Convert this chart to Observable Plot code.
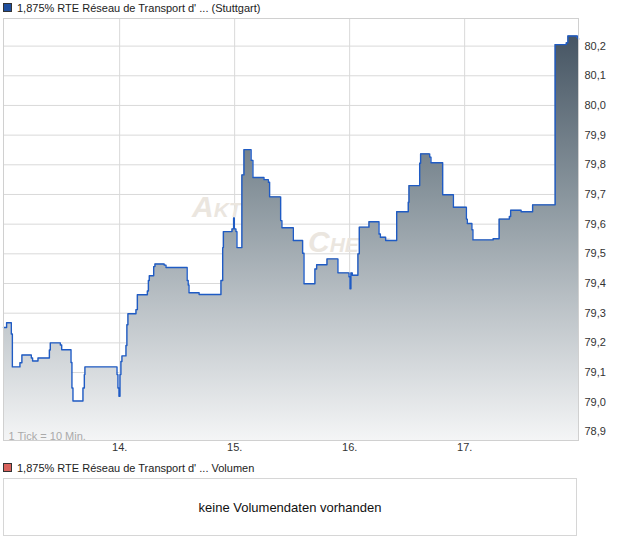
<!DOCTYPE html>
<html>
<head>
<meta charset="utf-8">
<script src="https://cdn.jsdelivr.net/npm/d3@7"></script>
<script src="https://cdn.jsdelivr.net/npm/@observablehq/plot@0.6"></script>
<style>
  html, body { margin: 0; padding: 0; background: #fff; }
  #wrap { position: relative; width: 620px; height: 546px; font-family: "Liberation Sans", Arial, sans-serif; color: #222; }
  .leg { position: absolute; left: 3px; font-size: 11px; line-height: 14px; white-space: nowrap; }
  .sq { display: inline-block; width: 7px; height: 7px; margin-right: 5px; vertical-align: 0px; border: 1px solid #333; }
  #chart { position: absolute; left: 0; top: 0; }
  .box { position: absolute; left: 3px; top: 478px; width: 574px; height: 58px; border: 1px solid #d6d6d6; box-sizing: border-box;
         display: flex; align-items: center; justify-content: center; font-size: 13px; color: #111; }
</style>
</head>
<body>
<div id="wrap">
  <div class="leg" style="top:1px"><span class="sq" style="background:#1f4f9e"></span>1,875% RTE Réseau de Transport d' ... (Stuttgart)</div>
  <div id="chart"></div>
  <div class="leg" style="top:461px"><span class="sq" style="background:#d9625c"></span>1,875% RTE Réseau de Transport d' ... Volumen</div>
  <div class="box">keine Volumendaten vorhanden</div>
</div>
<script>
// Time axis in days (trading-time scale, 1 tick = 10 min)
const dayTicks = [14, 15, 16, 17];
const priceTicks = [78.9, 79.0, 79.1, 79.2, 79.3, 79.4, 79.5, 79.6, 79.7, 79.8, 79.9, 80.0, 80.1, 80.2];

const times = [
  12.99, 13.017, 13.058, 13.067, 13.133, 13.150, 13.232, 13.243, 13.290, 13.389,
  13.397, 13.484, 13.496, 13.577, 13.585, 13.594, 13.681, 13.693, 13.698, 13.977,
  13.985, 13.994, 14.003, 14.011, 14.020, 14.055, 14.063, 14.072, 14.142, 14.154,
  14.241, 14.250, 14.258, 14.296, 14.307, 14.387, 14.403, 14.587, 14.596, 14.603,
  14.691, 14.881, 14.896, 14.902, 14.977, 14.991, 14.997, 15.011, 15.020, 15.063,
  15.081, 15.143, 15.159, 15.255, 15.293, 15.304, 15.400, 15.411, 15.510, 15.591,
  15.603, 15.698, 15.713, 15.803, 15.898, 15.994, 16.003, 16.011, 16.023, 16.072,
  16.084, 16.168, 16.255, 16.267, 16.313, 16.409, 16.510, 16.516, 16.609, 16.617,
  16.696, 16.707, 16.809, 16.902, 17.015, 17.023, 17.063, 17.072, 17.248, 17.300,
  17.389, 17.400, 17.491, 17.591, 17.787, 17.884, 17.898, 17.980, 17.99
];
const prices = [
  79.252, 79.268, 79.230, 79.119, 79.133, 79.159, 79.149, 79.139, 79.149, 79.176,
  79.200, 79.193, 79.177, 79.134, 79.048, 79.004, 79.048, 79.093, 79.119, 79.093,
  79.048, 79.020, 79.093, 79.137, 79.156, 79.191, 79.261, 79.298, 79.312, 79.362,
  79.375, 79.410, 79.426, 79.457, 79.466, 79.462, 79.454, 79.410, 79.395, 79.369,
  79.363, 79.410, 79.521, 79.575, 79.584, 79.621, 79.584, 79.575, 79.521, 79.766,
  79.851, 79.815, 79.757, 79.750, 79.741, 79.692, 79.612, 79.588, 79.545, 79.502,
  79.399, 79.449, 79.463, 79.483, 79.436, 79.423, 79.382, 79.436, 79.428, 79.500,
  79.590, 79.608, 79.567, 79.556, 79.545, 79.642, 79.674, 79.730, 79.805, 79.837,
  79.826, 79.807, 79.699, 79.657, 79.617, 79.602, 79.581, 79.547, 79.551, 79.617,
  79.626, 79.647, 79.642, 79.665, 80.205, 80.211, 80.234, 80.227, 80.222
];

const data = times.map((t, i) => ({t, v: prices[i]}));
const yMin = 78.871, yMax = 80.293;

const defs = () => {
  const g = d3.create("svg:defs");
  const lg = g.append("linearGradient").attr("id", "areaGrad").attr("x1", 0).attr("y1", 0).attr("x2", 0).attr("y2", 1);
  [[0, "#465563"], [0.4, "#8a969e"], [0.65, "#b8bfc4"], [1, "#f4f5f6"]]
    .forEach(([o, c]) => lg.append("stop").attr("offset", o).attr("stop-color", c));
  return g.node();
};

const chart = Plot.plot({
  width: 620,
  height: 460,
  marginTop: 18,
  marginLeft: 3,
  marginRight: 42,
  marginBottom: 20,
  style: {fontFamily: "'Liberation Sans', Arial, sans-serif", fontSize: "11px", color: "#333", background: "transparent", overflow: "visible"},
  x: {domain: [12.99, 17.99], label: null},
  y: {domain: [yMin, yMax], label: null},
  marks: [
    defs,
    Plot.gridY(priceTicks, {stroke: "#d9d9d9", strokeOpacity: 1}),
    Plot.gridX(dayTicks, {stroke: "#d9d9d9", strokeOpacity: 1}),
    Plot.text(["Aktien"], {frameAnchor: "middle", textAnchor: "start", lineAnchor: "bottom", dx: -99, dy: -13,
      fontSize: 30, fontStyle: "italic", fontWeight: "bold", fontVariant: "small-caps", fill: "#ebe6df"}),
    Plot.text(["Check"], {frameAnchor: "middle", textAnchor: "start", lineAnchor: "bottom", dx: 17, dy: 22,
      fontSize: 30, fontStyle: "italic", fontWeight: "bold", fontVariant: "small-caps", fill: "#ebe6df"}),
    Plot.areaY(data, {x: "t", y1: yMin, y2: "v", curve: "step-after", fill: "url(#areaGrad)"}),
    Plot.lineY(data, {x: "t", y: "v", curve: "step-after", stroke: "#1f5bc4", strokeWidth: 1.4}),
    Plot.frame({stroke: "#d0d0d0"}),
    Plot.axisY(priceTicks, {anchor: "right", label: null, tickSize: 0, tickPadding: 6, tickFormat: d => d.toFixed(1).replace(".", ","), fill: "#333"}),
    Plot.axisX(dayTicks, {anchor: "bottom", label: null, tickSize: 0, tickPadding: 3, tickFormat: d => d + ".", fill: "#333"}),
    Plot.text(["1 Tick = 10 Min."], {frameAnchor: "bottom-left", textAnchor: "start", lineAnchor: "bottom", dx: 5, dy: -1, fill: "#aaaaaa", fontSize: 11})
  ]
});
document.getElementById("chart").append(chart);
</script>
</body>
</html>
